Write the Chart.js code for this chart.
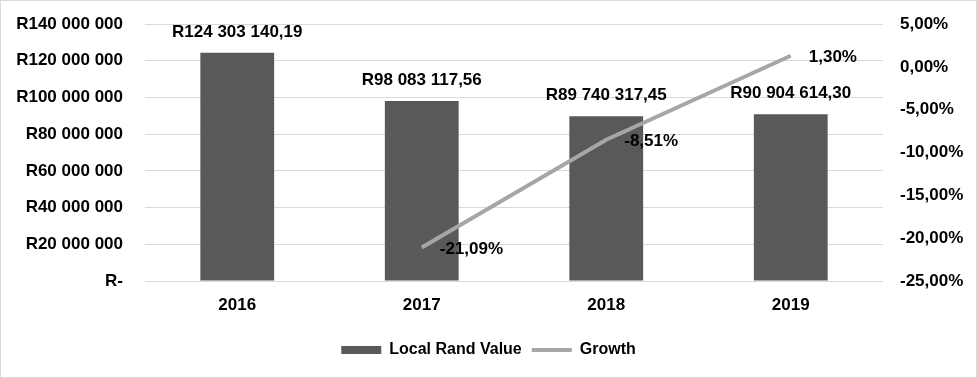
<!DOCTYPE html>
<html>
<head>
<meta charset="utf-8">
<script src="https://cdn.jsdelivr.net/npm/chart.js@4.4.1/dist/chart.umd.min.js"></script>
<style>
  body { margin: 0; background: #fff; }
  #wrap { width: 977px; height: 378px; border: 1px solid #d9d9d9; box-sizing: border-box; }
</style>
</head>
<body>
<div id="wrap"><canvas id="chart" width="975" height="376"></canvas></div>
<script>
const years = ['2016', '2017', '2018', '2019'];
const randValues = [124303140.19, 98083117.56, 89740317.45, 90904614.30];
const growth = [null, -21.09, -8.51, 1.30];

const FONT = '"Liberation Sans", Arial, sans-serif';

function groupDigits(s) {
  return s.replace(/\B(?=(\d{3})+(?!\d))/g, ' ');
}

function randTick(v) {
  if (v === 0) return 'R-';
  return 'R' + groupDigits(Math.round(v).toString());
}

function randLabel(v) {
  const parts = v.toFixed(2).split('.');
  return 'R' + groupDigits(parts[0]) + ',' + parts[1];
}

function pct(v) {
  return v.toFixed(2).replace('.', ',') + '%';
}

// fixed axis width, and no extra top/bottom padding from tick labels
function fixWidth(w) {
  return s => {
    s.width = w;
    s.paddingTop = 0;
    s.paddingBottom = 0;
  };
}

// labels on bars and line points
const valueLabels = {
  id: 'valueLabels',
  afterDatasetsDraw(chart) {
    const ctx = chart.ctx;
    ctx.save();
    ctx.font = 'bold 17px ' + FONT;
    ctx.fillStyle = '#000';
    ctx.textBaseline = 'middle';
    chart.data.datasets.forEach((ds, i) => {
      const meta = chart.getDatasetMeta(i);
      meta.data.forEach((el, j) => {
        const v = ds.data[j];
        if (v === null) return;
        if (ds.type === 'bar') {
          ctx.textAlign = 'center';
          ctx.fillText(randLabel(v), el.x, el.y - 21);
        } else {
          ctx.textAlign = 'left';
          ctx.fillText(pct(v), el.x + 18, el.y + 2);
        }
      });
    });
    ctx.restore();
  }
};

new Chart(document.getElementById('chart'), {
  data: {
    labels: years,
    datasets: [
      {
        type: 'line',
        label: 'Growth',
        data: growth,
        yAxisID: 'y1',
        borderColor: '#a6a6a6',
        backgroundColor: '#a6a6a6',
        borderWidth: 4,
        pointRadius: 0,
        tension: 0
      },
      {
        type: 'bar',
        label: 'Local Rand Value',
        data: randValues,
        yAxisID: 'y',
        backgroundColor: '#595959',
        barPercentage: 0.4,
        categoryPercentage: 1
      }
    ]
  },
  options: {
    responsive: false,
    animation: false,
    layout: { padding: { top: 23, bottom: 9, left: 0, right: 0 } },
    plugins: {
      tooltip: { enabled: false },
      legend: {
        position: 'bottom',
        labels: {
          font: { family: FONT, size: 16, weight: 'bold' },
          color: '#000',
          usePointStyle: true,
          pointStyleWidth: 40,
          boxHeight: 8,
          padding: 10,
          generateLabels: chart => chart.data.datasets.map((ds, i) => ({
            text: ds.label,
            datasetIndex: i,
            fillStyle: ds.backgroundColor,
            strokeStyle: ds.type === 'line' ? ds.borderColor : ds.backgroundColor,
            lineWidth: ds.type === 'line' ? 4 : 0,
            pointStyle: ds.type === 'line' ? 'line' : 'rect',
            fontColor: '#000',
            hidden: false
          })).reverse()
        }
      }
    },
    scales: {
      x: {
        grid: { display: false, drawTicks: false },
        border: { display: false },
        ticks: { color: '#000', font: { family: FONT, size: 17, weight: 'bold' }, padding: 14 },
        afterFit: s => { s.height = 51; }
      },
      y: {
        position: 'left',
        min: 0,
        max: 140000000,
        ticks: {
          stepSize: 20000000,
          color: '#000',
          padding: 22,
          font: { family: FONT, size: 17, weight: 'bold' },
          callback: v => randTick(v)
        },
        grid: { color: '#d9d9d9', lineWidth: 1, drawTicks: false },
        border: { display: false },
        afterFit: fixWidth(144)
      },
      y1: {
        position: 'right',
        min: -25,
        max: 5,
        ticks: {
          stepSize: 5,
          color: '#000',
          padding: 17,
          font: { family: FONT, size: 17, weight: 'bold' },
          callback: v => pct(v)
        },
        grid: { display: false, drawTicks: false },
        border: { display: false },
        afterFit: fixWidth(93)
      }
    }
  },
  plugins: [valueLabels]
});
</script>
</body>
</html>
